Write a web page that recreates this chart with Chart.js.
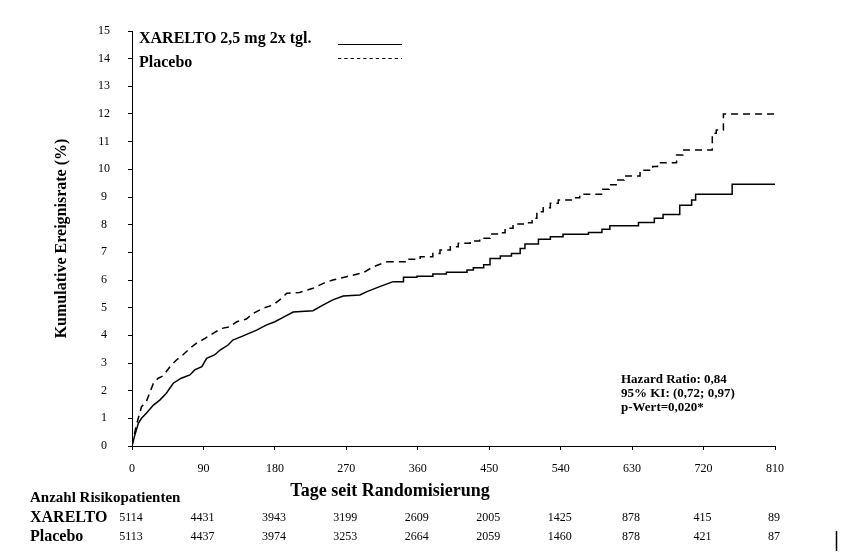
<!DOCTYPE html>
<html>
<head>
<meta charset="utf-8">
<script src="https://cdn.jsdelivr.net/npm/chart.js@4.4.0/dist/chart.umd.min.js"></script>
<style>
  html, body { margin: 0; padding: 0; background: #ffffff; }
  #wrap { width: 847px; height: 559px; position: relative; }
</style>
</head>
<body>
<div id="wrap"><canvas id="c" width="847" height="559"></canvas></div>
<script>
// ---- data ----
const xareltoDays = [0, 3, 8, 12, 18, 27, 35, 43, 52, 62, 73, 79, 88, 94, 104, 111, 121, 127, 140, 157, 169, 180, 188, 203, 228, 241, 253, 266, 287, 296, 312, 329, 342, 359, 379, 396, 422, 430, 443, 451, 464, 478, 489, 495, 512, 527, 543, 575, 592, 602, 638, 658, 669, 690, 705, 710, 756, 810];
const xareltoVals = [0, 0.34, 0.82, 1.0, 1.18, 1.48, 1.66, 1.9, 2.27, 2.45, 2.57, 2.75, 2.87, 3.17, 3.29, 3.47, 3.65, 3.83, 3.98, 4.19, 4.37, 4.49, 4.61, 4.84, 4.89, 5.1, 5.28, 5.42, 5.46, 5.58, 5.76, 5.94, 6.1, 6.14, 6.22, 6.28, 6.36, 6.44, 6.55, 6.78, 6.87, 6.96, 7.14, 7.3, 7.47, 7.56, 7.65, 7.72, 7.83, 7.96, 8.08, 8.23, 8.37, 8.7, 8.89, 9.1, 9.46, 9.46];

const placeboDays = [0, 5, 12, 18, 22, 27, 33, 39, 48, 56, 64, 73, 81, 92, 102, 113, 123, 132, 144, 153, 165, 178, 186, 195, 211, 228, 241, 253, 270, 291, 304, 321, 346, 363, 379, 388, 401, 411, 426, 438, 451, 464, 470, 480, 493, 504, 510, 518, 527, 537, 556, 564, 593, 601, 612, 620, 640, 656, 662, 686, 694, 731, 736, 745, 810];
const placeboVals = [0, 0.7, 1.42, 1.6, 1.9, 2.27, 2.45, 2.53, 2.87, 3.11, 3.29, 3.53, 3.71, 3.89, 4.07, 4.25, 4.31, 4.49, 4.59, 4.8, 4.98, 5.1, 5.28, 5.52, 5.55, 5.7, 5.88, 6.0, 6.12, 6.26, 6.48, 6.66, 6.75, 6.84, 6.96, 7.08, 7.2, 7.33, 7.41, 7.51, 7.66, 7.71, 7.87, 8.02, 8.07, 8.23, 8.47, 8.61, 8.77, 8.89, 8.97, 9.1, 9.28, 9.44, 9.61, 9.76, 9.97, 10.1, 10.24, 10.52, 10.7, 11.3, 11.42, 12.0, 12.0];

// the dense early part of each curve (many tiny steps) is drawn as a joined line,
// the sparse later part as clear steps
const xareltoSplitDay = 329;
const placeboSplitDay = 321;

const riskDays = [0, 90, 180, 270, 360, 450, 540, 630, 720, 810];
const xareltoRisk = [5114, 4431, 3943, 3199, 2609, 2005, 1425, 878, 415, 89];
const placeboRisk = [5113, 4437, 3974, 3253, 2664, 2059, 1460, 878, 421, 87];

const seriesNames = ['XARELTO 2,5 mg 2x tgl.', 'Placebo'];
const riskRowNames = ['XARELTO', 'Placebo'];
const statsLines = ['Hazard Ratio: 0,84', '95% KI: (0,72; 0,97)', 'p-Wert=0,020*'];
const xTitle = 'Tage seit Randomisierung';
const yTitle = 'Kumulative Ereignisrate (%)';
const riskTitle = 'Anzahl Risikopatienten';

const SERIF = "'Liberation Serif', 'Times New Roman', serif";

function pts(days, vals, from, to) {
  return days.map((d, i) => ({ x: d, y: vals[i] })).filter(p => p.x >= from && p.x <= to);
}

const overlay = {
  id: 'overlay',
  afterDraw(chart) {
    const ctx = chart.ctx;
    const xs = chart.scales.x;
    const ca = chart.chartArea;
    ctx.save();
    ctx.fillStyle = '#000';
    ctx.strokeStyle = '#000';

    // legend
    ctx.font = 'bold 16px ' + SERIF;
    ctx.textAlign = 'left';
    ctx.textBaseline = 'middle';
    ctx.fillText(seriesNames[0], 139, 39);
    ctx.fillText(seriesNames[1], 139, 63);
    ctx.lineWidth = 1.2;
    ctx.beginPath(); ctx.moveTo(338, 44.5); ctx.lineTo(402, 44.5); ctx.stroke();
    ctx.setLineDash([3.3, 3]);
    ctx.beginPath(); ctx.moveTo(338, 58.5); ctx.lineTo(402, 58.5); ctx.stroke();
    ctx.setLineDash([]);

    // stats annotation
    ctx.font = 'bold 13px ' + SERIF;
    statsLines.forEach((t, i) => ctx.fillText(t, 621, 380 + i * 13.7));

    // y title
    ctx.save();
    ctx.translate(62, (ca.top + ca.bottom) / 2);
    ctx.rotate(-Math.PI / 2);
    ctx.textAlign = 'center';
    ctx.font = 'bold 16px ' + SERIF;
    ctx.fillText(yTitle, 0, 0);
    ctx.restore();

    // x title
    ctx.textAlign = 'center';
    ctx.font = 'bold 18px ' + SERIF;
    ctx.fillText(xTitle, 390, 491);

    // risk table
    ctx.textAlign = 'left';
    ctx.font = 'bold 15px ' + SERIF;
    ctx.fillText(riskTitle, 30, 498);
    ctx.font = 'bold 16px ' + SERIF;
    ctx.fillText(riskRowNames[0], 30, 518);
    ctx.fillText(riskRowNames[1], 30, 537);
    ctx.font = '12px ' + SERIF;
    ctx.textAlign = 'center';
    riskDays.forEach((d, i) => {
      const px = xs.getPixelForValue(d) - 1;
      ctx.fillText(String(xareltoRisk[i]), px, 518);
      ctx.fillText(String(placeboRisk[i]), px, 537);
    });

    // small vertical mark at bottom right
    ctx.lineWidth = 1.5;
    ctx.beginPath(); ctx.moveTo(836.5, 531); ctx.lineTo(836.5, 551); ctx.stroke();
    ctx.restore();
  }
};

const solid = { borderColor: '#000', borderWidth: 1.5, pointRadius: 0, fill: false };
const dashed = { borderColor: '#000', borderWidth: 1.5, borderDash: [7, 5], pointRadius: 0, fill: false };

new Chart(document.getElementById('c'), {
  type: 'line',
  data: {
    datasets: [
      Object.assign({ label: seriesNames[0], data: pts(xareltoDays, xareltoVals, 0, xareltoSplitDay), stepped: false, tension: 0 }, solid),
      Object.assign({ label: seriesNames[0], data: pts(xareltoDays, xareltoVals, xareltoSplitDay, 810), stepped: 'before' }, solid),
      Object.assign({ label: seriesNames[1], data: pts(placeboDays, placeboVals, 0, placeboSplitDay), stepped: false, tension: 0 }, dashed),
      Object.assign({ label: seriesNames[1], data: pts(placeboDays, placeboVals, placeboSplitDay, 810), stepped: 'before' }, dashed)
    ]
  },
  options: {
    responsive: false,
    animation: false,
    devicePixelRatio: 1,
    layout: { padding: { top: 31, right: 72, left: 0, bottom: 0 } },
    plugins: { legend: { display: false }, tooltip: { enabled: false } },
    scales: {
      x: {
        type: 'linear',
        min: 0, max: 810,
        afterFit(s) { s.height = 113; },
        afterBuildTicks(s) { s.ticks = riskDays.map(v => ({ value: v })); },
        border: { display: true, color: '#000', width: 1 },
        grid: { display: true, drawOnChartArea: false, drawTicks: true, tickLength: 4, color: '#000', lineWidth: 1 },
        ticks: { color: '#000', font: { family: SERIF, size: 12 }, padding: 12, maxRotation: 0, autoSkip: false }
      },
      y: {
        min: 0, max: 15,
        afterFit(s) { s.width = 132; },
        border: { display: true, color: '#000', width: 1 },
        grid: { display: true, drawOnChartArea: false, drawTicks: true, tickLength: 4, color: '#000', lineWidth: 1 },
        ticks: { stepSize: 1, color: '#000', font: { family: SERIF, size: 12 }, padding: 18, crossAlign: 'center' }
      }
    }
  },
  plugins: [overlay]
});
</script>
</body>
</html>
